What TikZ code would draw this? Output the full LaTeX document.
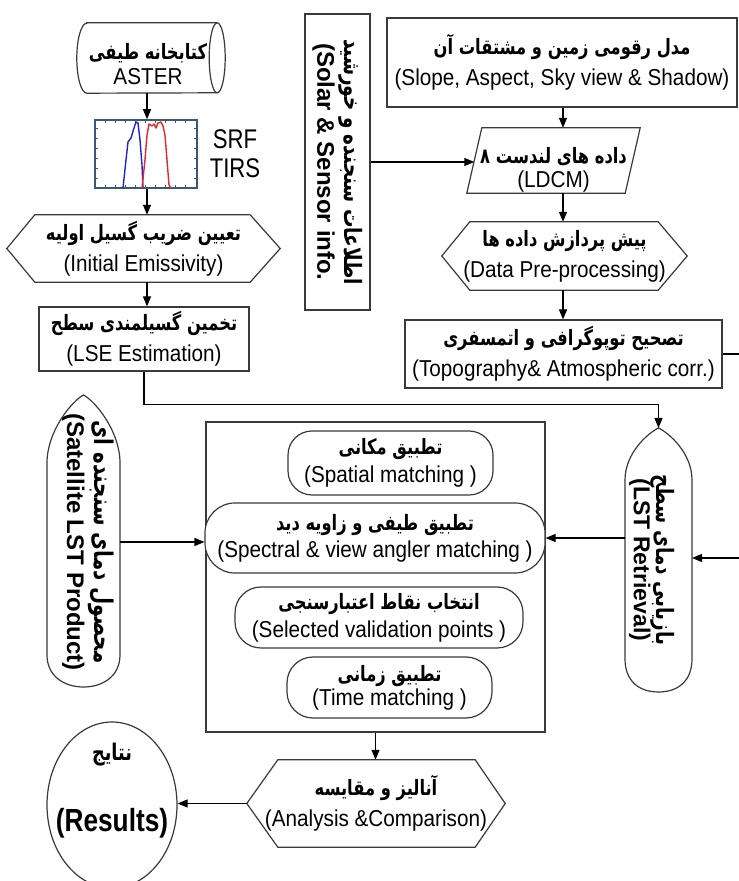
\documentclass[tikz,border=0pt]{standalone}
\usepackage{fontspec}
\setmainfont{Liberation Sans}
\newfontfamily\farsifont[Script=Arabic,Scale=0.92,FakeStretch=0.77]{DejaVu Sans}
\newfontfamily\condfont[FakeStretch=0.82]{Liberation Sans}
\newfontfamily\enfont[FakeStretch=0.9]{Liberation Sans}
\TeXXeTstate=1
\usetikzlibrary{arrows.meta,shapes.geometric,calc}
\newcommand\FA[1]{{\farsifont\bfseries\beginR #1\endR}}
\definecolor{linec}{HTML}{3A3A3A}
\definecolor{srfc}{HTML}{3A5878}
\definecolor{srfblue}{HTML}{2222DD}
\definecolor{srfred}{HTML}{E02828}
\tikzset{
  outline/.style={draw=linec, line width=1.2pt},
  box/.style={draw=linec, line width=1.2pt, inner sep=0pt, align=center},
  plain/.style={inner sep=0pt, align=center},
  arr/.style={draw=black, line width=1.2pt, -{Triangle[length=10pt,width=8pt]}},
  en/.style={font=\enfont\fontsize{23}{31}\selectfont},
  vert/.style={font=\fontsize{24}{27}\selectfont\bfseries},
}
\begin{document}
\begin{tikzpicture}[x=1pt,y=1pt]
\path[use as bounding box, clip] (0,0) rectangle (739,881);
\fill[white] (0,0) rectangle (739,881);
\coordinate (colx) at (147,0);
\coordinate (colr) at (563,0);
\coordinate (rim) at (745,0);

% ASTER cylinder
\node[plain, minimum width=148pt, minimum height=70pt] (aster) at (151,823) {};
\node[plain, font=\enfont\fontsize{23}{25}\selectfont] (astertxt) at ([xshift=-3pt,yshift=-6pt]aster.center) {\FA{کتابخانه طیفی}\\ASTER};
\draw[outline] ([xshift=10pt]aster.north west) -- ([xshift=-8pt]aster.north east)
  arc[start angle=90,end angle=-90,x radius=8,y radius=35]
  -- ([xshift=10pt]aster.south west)
  arc[start angle=270,end angle=90,x radius=10,y radius=35] -- cycle;
\draw[outline] ([xshift=-8pt]aster.north east) arc[start angle=90,end angle=270,x radius=8,y radius=35];

% SRF plot
\node[draw=srfc, line width=1.5pt, minimum width=102pt, minimum height=68pt, inner sep=0pt] (srf) at (146,727) {};
\foreach \t in {105,115,...,185} {\draw[srfc, line width=0.6pt] (\t,693) -- (\t,696); \draw[srfc, line width=0.6pt] (\t,761) -- (\t,758);}
\foreach \t in {703,713,...,753} {\draw[srfc, line width=0.6pt] (95,\t) -- (98,\t); \draw[srfc, line width=0.6pt] (197,\t) -- (194,\t);}
\draw[srfblue, line width=1.4pt, line join=round] (123,693) -- (126,721) -- (128,739) -- (131,743) -- (134,753) -- (136,759) -- (138,758) -- (140,741) -- (142,716) -- (143,693);
\draw[srfred, line width=1.4pt, line join=round] (142,693) -- (145,721) -- (147,746) -- (149,757) -- (152,755) -- (154,757) -- (156,753) -- (158,758) -- (161,759) -- (163,755) -- (165,746) -- (167,721) -- (169,696) -- (171,693);
\node[plain, font=\condfont\fontsize{27}{29}\selectfont] (srftxt) at (235,727) {SRF\\TIRS};

% Initial emissivity hexagon
\node[plain, en, minimum width=273pt, minimum height=67pt] (hex1) at (143.5,632.5) {\FA{تعیین ضریب گسیل اولیه}\\(Initial Emissivity)};
\draw[outline] (hex1.west) -- ([xshift=28pt]hex1.north west) -- ([xshift=-30pt]hex1.north east) -- (hex1.east) -- ([xshift=-30pt]hex1.south east) -- ([xshift=28pt]hex1.south west) -- cycle;

% LSE
\node[box, en, minimum width=210pt, minimum height=64pt] (lse) at (144,542) {\FA{تخمین گسیلمندی سطح}\\(LSE Estimation)};

% Solar & sensor info
\node[box, vert, rotate=-90, minimum width=296pt, minimum height=65pt] (solar) at (337.5,719) {{\fontsize{26}{27}\selectfont\FA{اطلاعات سنجنده و خورشید}}\\(Solar \& Sensor info.};

% DEM
\node[box, en, minimum width=350pt, minimum height=89pt] (dem) at (562,818.5) {\FA{مدل رقومی زمین و مشتقات آن}\\(Slope, Aspect, Sky view \& Shadow)};

% Landsat parallelogram
\node[plain, minimum width=158pt, minimum height=65pt] (para) at (553.5,720.5) {};
\node[plain, font=\enfont\fontsize{23}{24}\selectfont] (paratxt) at ([yshift=-9pt]para.center) {\FA{داده های لندست ۸}\\(LDCM)};
\draw[outline] ([xshift=7.5pt]para.north west) -- ([xshift=7.5pt]para.north east) -- ([xshift=-7.5pt]para.south east) -- ([xshift=-7.5pt]para.south west) -- cycle;

% Pre-processing hexagon
\node[plain, en, minimum width=245pt, minimum height=68pt] (hex2) at (564.5,625) {\FA{پیش پردازش داده ها}\\(Data Pre-processing)};
\draw[outline] (hex2.west) -- ([xshift=28pt]hex2.north west) -- ([xshift=-29pt]hex2.north east) -- (hex2.east) -- ([xshift=-29pt]hex2.south east) -- ([xshift=28pt]hex2.south west) -- cycle;

% Topography
\node[box, en, minimum width=317pt, minimum height=68pt] (topo) at (563.5,527) {\FA{تصحیح توپوگرافی و اتمسفری}\\(Topography\& Atmospheric corr.)};

% LST retrieval
\node[plain, rotate=-90, minimum width=264pt, minimum height=67pt, font=\fontsize{23}{23}\selectfont\bfseries] (lst) at (652,321) {{\fontsize{26}{27}\selectfont\FA{بازیابی دمای سطح}}\\(LST Retrieval)};
\draw[outline] (625,401) .. controls (625,428) and (648,448) .. (658.5,453) .. controls (669,448) and (692,428) .. (692,401)
  -- (692,222) .. controls (692,200) and (678,189) .. (658.5,189) .. controls (639,189) and (625,200) .. (625,222) -- cycle;

% Satellite LST product
\node[plain, vert, rotate=-90, minimum width=290pt, minimum height=73pt] (sat) at (88,339) {{\fontsize{28}{27}\selectfont\FA{محصول دمای سنجنده ای}}\\(Satellite LST Product)};
\draw[outline] (47,418) .. controls (47,450) and (72,480) .. (83.5,486) .. controls (95,480) and (120,450) .. (120,418)
  -- (120,226) .. controls (120,205) and (103,194) .. (83.5,194) .. controls (64,194) and (47,205) .. (47,226) -- cycle;

% Big box and inner nodes
\node[box, minimum width=339pt, minimum height=310pt] (big) at (375.5,304) {};
\node[box, en, rounded corners=24pt, minimum width=205pt, minimum height=64pt, font=\enfont\fontsize{23}{28}\selectfont] (spa) at (390.5,418) {\FA{تطبیق مکانی}\\(Spatial matching )};
\node[box, en, rounded corners=30pt, minimum width=340pt, minimum height=70pt, font=\enfont\fontsize{23}{27}\selectfont, fill=white] (spec) at (375,343) {\FA{تطبیق طیفی و زاویه دید}\\(Spectral \& view angler matching )};
\node[box, en, rounded corners=26pt, minimum width=288pt, minimum height=61pt, font=\enfont\fontsize{23}{28}\selectfont] (sel) at (379,263.5) {\FA{انتخاب نقاط اعتبارسنجی}\\(Selected validation points )};
\node[box, en, rounded corners=26pt, minimum width=205pt, minimum height=61pt, font=\enfont\fontsize{23}{24}\selectfont] (time) at (389.5,193.5) {\FA{تطبیق زمانی}\\(Time matching )};

% Analysis hexagon
\node[plain, en, minimum width=258pt, minimum height=87pt] (ana) at (376,77.5) {\FA{آنالیز و مقایسه}\\(Analysis \&Comparison)};
\draw[outline] (ana.west) -- ([xshift=31pt]ana.north west) -- ([xshift=-30pt]ana.north east) -- (ana.east) -- ([xshift=-30pt]ana.south east) -- ([xshift=31pt]ana.south west) -- cycle;

% Results
\node[draw=linec, line width=1.2pt, ellipse, minimum width=130pt, minimum height=166pt, inner sep=0pt] (res) at (112,76) {};
\node[plain, font=\fontsize{25}{27}\selectfont] (resfa) at (112,126) {\FA{نتایج}};
\node[plain, font=\condfont\fontsize{32}{34}\selectfont\bfseries] (resen) at (112,58) {(Results)};

% connectors
\draw[arr] (aster.south -| colx) -- (srf.north -| colx);
\draw[arr] (srf.south -| colx) -- (hex1.north -| colx);
\draw[arr] (hex1.south -| colx) -- (lse.north -| colx);
\draw[arr] (lse.south) -- ++(0,-33) -| (658.5,453);
\draw[arr] (solar.north) -- (solar.north -| para.west);
\draw[arr] (dem.south -| colr) -- (para.north -| colr);
\draw[arr] (para.south -| colr) -- (hex2.north -| colr);
\draw[arr] (hex2.south -| colr) -- (topo.north -| colr);
\draw[arr] (topo.east) -- (topo.east -| rim) |- (692,323);
\draw[arr] (625,343) -- (spec.east);
\draw[arr] (120,339) -- (120,339 -| spec.west);
\draw[arr] (big.south) -- (big.south |- ana.north);
\draw[arr] (ana.west) -- (ana.west -| res.east);
\end{tikzpicture}
\end{document}
